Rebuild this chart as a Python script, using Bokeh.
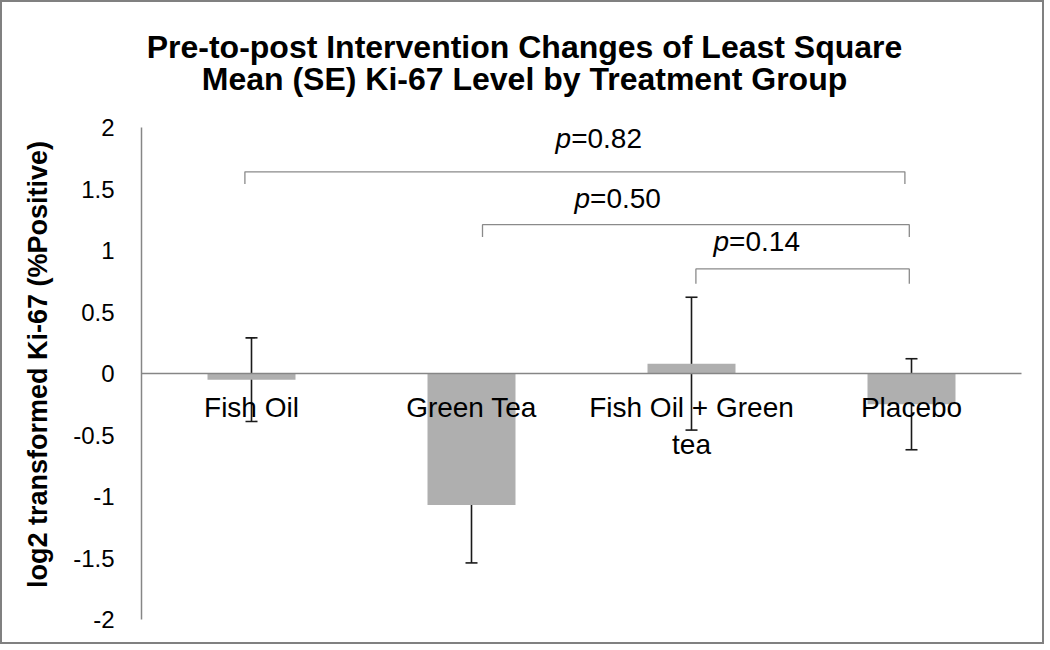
import math
from bokeh.plotting import figure
from bokeh.models import Range1d, FixedTicker, Label, Whisker, ColumnDataSource, TeeHead
from bokeh.core.properties import value
from bokeh.embed import file_html
from bokeh.resources import INLINE

# ---- data ----
categories = ["Fish Oil", "Green Tea", "Fish Oil + Green\ntea", "Placebo"]
ls_mean = [-0.05, -1.07, 0.08, -0.25]
se = [0.34, 0.47, 0.54, 0.37]
y_ticks = [-2, -1.5, -1, -0.5, 0, 0.5, 1, 1.5, 2]
y_tick_labels = ["-2", "-1.5", "-1", "-0.5", "0", "0.5", "1", "1.5", "2"]
p_values = ["0.82", "0.50", "0.14"]
cmp_from = [0, 1, 2]
cmp_to = [3, 3, 3]
title_lines = ["Pre-to-post Intervention Changes of Least Square",
               "Mean (SE) Ki-67 Level by Treatment Group"]
y_label = "log2 transformed Ki-67 (%Positive)"

# ---- layout (pixels) ----
W, H = 1044, 644
PLOT_L, PLOT_R, PLOT_T, PLOT_B = 139, 25, 125, 27   # plotting area margins inside the canvas
X0, X1 = -0.5, 3.5
Y0, Y1 = -2.0, 2.0
px_x = (W - PLOT_L - PLOT_R) / (X1 - X0)
px_y = (H - PLOT_T - PLOT_B) / (Y1 - Y0)

# ---- annotation geometry (data units) ----
bracket_left = [-0.03, 1.05, 2.02]
bracket_right = [2.97, 2.99, 2.99]
bracket_y = [1.64, 1.21, 0.85]
bracket_drop = [0.10, 0.10, 0.12]
plabel_x = [1.453, 1.539, 2.171]
plabel_y = [1.913, 1.425, 1.075]

FONT = "Liberation Sans"
x_idx = list(range(len(categories)))

p = figure(width=W, height=H,
           x_range=Range1d(X0 - PLOT_L / px_x, X1 + PLOT_R / px_x),
           y_range=Range1d(Y0 - PLOT_B / px_y, Y1 + PLOT_T / px_y),
           output_backend="svg", toolbar_location=None, title=None,
           min_border=0)
p.xgrid.visible = False
p.ygrid.visible = False
p.outline_line_color = None
p.styles = {"border": "2px solid #808080"}

def data_x(px):
    return p.x_range.start + px / px_x

def data_y(py):
    return p.y_range.end - py / px_y

# title (two centred lines)
for txt, base_px in zip(title_lines, [44, 76]):
    p.add_layout(Label(x=data_x(W / 2), y=data_y(base_px), text=txt,
                       text_align="center", text_baseline="alphabetic",
                       text_font=FONT, text_font_size="32px", text_font_style="bold",
                       text_color="#000000"))

# y axis title
p.add_layout(Label(x=data_x(35), y=data_y(362), text=y_label, angle=math.pi / 2,
                   text_align="center", text_baseline="middle",
                   text_font=FONT, text_font_size="27px", text_font_style="bold",
                   text_color="#000000"))

# y axis
ya = p.yaxis[0]
ya.fixed_location = X0
ya.bounds = (Y0, Y1)
ya.ticker = FixedTicker(ticks=y_ticks)
ya.major_label_overrides = {t: l for t, l in zip(y_ticks, y_tick_labels)}
ya.minor_tick_line_color = None
ya.major_tick_line_color = None
ya.major_label_standoff = 21
ya.major_label_text_font = FONT
ya.major_label_text_font_size = "24px"
ya.major_label_text_color = "#000000"
ya.axis_line_color = "#868686"
ya.axis_line_width = 1.5

# x axis at zero
xa = p.xaxis[0]
xa.fixed_location = 0
xa.bounds = (X0, X1)
xa.ticker = FixedTicker(ticks=x_idx)
xa.major_label_overrides = {i: c for i, c in zip(x_idx, categories)}
xa.minor_tick_line_color = None
xa.major_tick_line_color = None
xa.major_label_standoff = 12
xa.major_label_text_font = FONT
xa.major_label_text_font_size = "28px"
xa.major_label_text_color = "#000000"
xa.axis_line_color = "#868686"
xa.axis_line_width = 1.5

src = ColumnDataSource(dict(x=x_idx, top=ls_mean,
                            upper=[m + s for m, s in zip(ls_mean, se)],
                            lower=[m - s for m, s in zip(ls_mean, se)]))
p.vbar(x="x", top="top", bottom=0, width=0.40, source=src, fill_color="#afafaf", line_color=None)

w = Whisker(base="x", upper="upper", lower="lower", source=src,
            line_color="#1a1a1a", line_width=1.6,
            upper_head=TeeHead(size=12, line_color="#1a1a1a", line_width=1.6),
            lower_head=TeeHead(size=12, line_color="#1a1a1a", line_width=1.6))
p.add_layout(w)

# comparison brackets
xs, ys = [], []
for a, b, yb, d in zip(bracket_left, bracket_right, bracket_y, bracket_drop):
    xs.append([a, a, b, b])
    ys.append([yb - d, yb, yb, yb - d])
p.multi_line(xs=xs, ys=ys, line_color="#8a8a8a", line_width=1.3)

lab = ColumnDataSource(dict(x=plabel_x, y=plabel_y, pp=["p"] * len(p_values),
                            rest=["=" + v for v in p_values]))
p.text(x="x", y="y", text="pp", source=lab, text_align="right", text_baseline="alphabetic",
       text_font=value(FONT), text_font_size="28px", text_font_style="italic", text_color="#000000")
p.text(x="x", y="y", text="rest", source=lab, text_align="left", text_baseline="alphabetic",
       text_font=value(FONT), text_font_size="28px", text_color="#000000")

open("out.html", "w").write(file_html(p, INLINE))
